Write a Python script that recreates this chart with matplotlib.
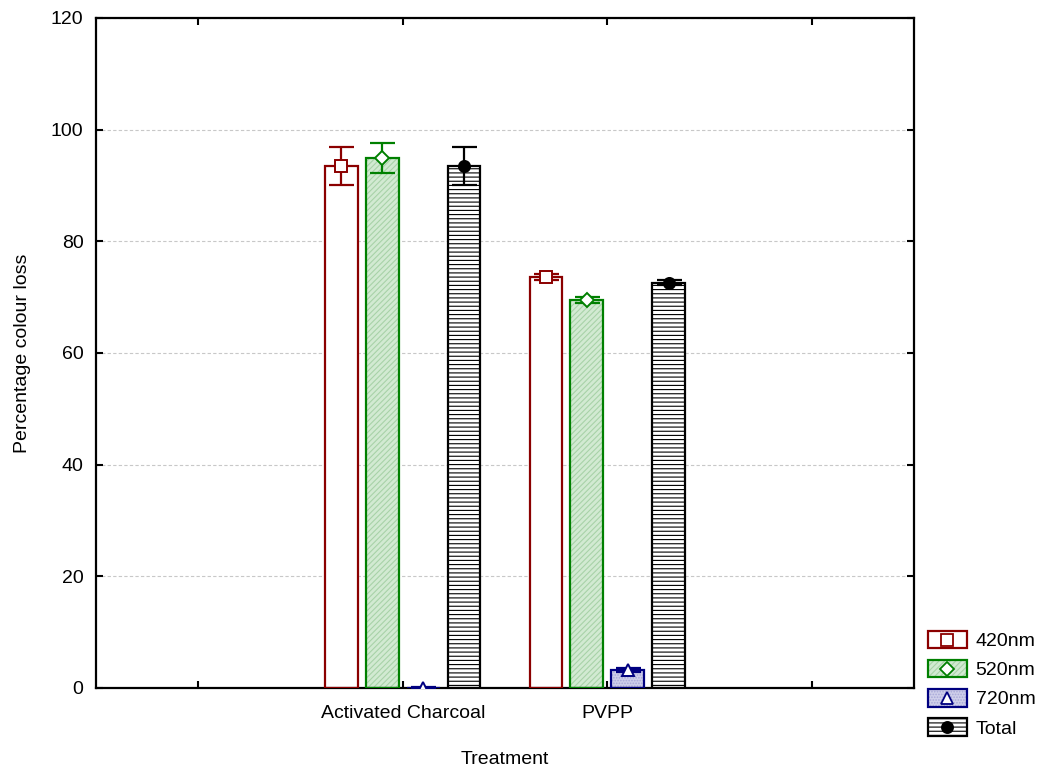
import numpy as np
import matplotlib
matplotlib.use('Agg')
import matplotlib.pyplot as plt
from matplotlib.patches import Patch
from matplotlib.lines import Line2D
from matplotlib.legend_handler import HandlerTuple, HandlerLine2D

plt.rcParams['font.family'] = ['Liberation Sans', 'DejaVu Sans']
plt.rcParams['hatch.linewidth'] = 0.8

# data
categories = ['', 'Activated Charcoal', 'PVPP', '']
series = ['420nm', '520nm', '720nm', 'Total']
means = {
    '420nm': [93.5, 73.6],
    '520nm': [95.0, 69.5],
    '720nm': [0.0, 3.2],
    'Total': [93.5, 72.6],
}
errors = {
    '420nm': [3.4, 0.5],
    '520nm': [2.7, 0.5],
    '720nm': [0.2, 0.3],
    'Total': [3.4, 0.5],
}

edge = {'420nm': '#8b0000', '520nm': '#008000', '720nm': '#000080', 'Total': 'black'}
face = {'420nm': 'white', '520nm': '#d2ead2', '720nm': '#cfcfea', 'Total': 'white'}
hatchc = {'420nm': 'white', '520nm': '#a8d2a8', '720nm': '#a8a8d8', 'Total': 'black'}
hatch = {'420nm': None, '520nm': '//////', '720nm': '......', 'Total': '----'}
marker = {'420nm': 's', '520nm': 'D', '720nm': '^', 'Total': 'o'}
mface = {'420nm': 'white', '520nm': 'white', '720nm': 'white', 'Total': 'black'}
msize = {'420nm': 8, '520nm': 7, '720nm': 8, 'Total': 8}

fs = 14


class CenteredMarker(HandlerLine2D):
    # put the legend marker in the middle of the patch box
    def create_artists(self, legend, orig, xdescent, ydescent, width, height,
                       fontsize, trans):
        arts = super().create_artists(legend, orig, xdescent, ydescent, width,
                                      height, fontsize, trans)
        for a in arts:
            y = np.asarray(a.get_ydata(), dtype=float)
            a.set_ydata(np.full_like(y, height / 2 - ydescent))
        return arts


fig = plt.figure(figsize=(10.46, 7.67), dpi=100)
ax = fig.add_axes([96 / 1046, 1 - 688 / 767, 818 / 1046, 670 / 767])

xc = np.array([1.5, 2.5])
width = 0.16
offsets = [-0.3, -0.1, 0.1, 0.3]

handles = []
for s, off in zip(series, offsets):
    x = xc + off
    ax.bar(x, means[s], width, color=face[s], edgecolor=hatchc[s],
           hatch=hatch[s], linewidth=0, zorder=2)
    ax.bar(x, means[s], width, fill=False, edgecolor=edge[s],
           linewidth=1.6, zorder=3)
    ax.errorbar(x, means[s], yerr=errors[s], fmt='none', ecolor=edge[s],
                elinewidth=1.6, capsize=9, capthick=1.6, zorder=4)
    ax.plot(x, means[s], linestyle='none', marker=marker[s], ms=msize[s],
            mfc=mface[s], mec=edge[s], mew=1.4, zorder=5)
    p = Patch(facecolor=face[s], edgecolor=hatchc[s], hatch=hatch[s], linewidth=0)
    p2 = Patch(fill=False, edgecolor=edge[s], linewidth=1.6)
    m = Line2D([], [], linestyle='none', marker=marker[s], ms=msize[s],
               mfc=mface[s], mec=edge[s], mew=1.3)
    handles.append((p, p2, m))

ax.set_xlim(0, 4)
ax.set_ylim(0, 120)
ax.set_xticks([0.5, 1.5, 2.5, 3.5])
ax.set_xticklabels(categories)
ax.set_yticks(range(0, 121, 20))
ax.tick_params(direction='in', top=True, right=True, labelsize=fs,
               length=5, width=1.5)
ax.tick_params(axis='y', pad=9)
ax.tick_params(axis='x', pad=12)
ax.yaxis.grid(True, linestyle=(0, (3, 2)), color='#c8c8c8', linewidth=0.8)
ax.set_axisbelow(True)
for sp in ax.spines.values():
    sp.set_linewidth(1.6)

ax.set_xlabel('Treatment', fontsize=fs, labelpad=21)
ax.set_ylabel('Percentage colour loss', fontsize=fs, labelpad=14)

fig.legend(handles, series,
           handler_map={tuple: HandlerTuple(ndivide=1), Line2D: CenteredMarker()},
           loc='upper left', bbox_to_anchor=(926 / 1046, 1 - 629 / 767),
           frameon=False, fontsize=fs, handlelength=2.0, handleheight=1.0,
           labelspacing=0.5, handletextpad=0.45, borderaxespad=0,
           borderpad=0.1)

fig.savefig('out.png', dpi=100)
